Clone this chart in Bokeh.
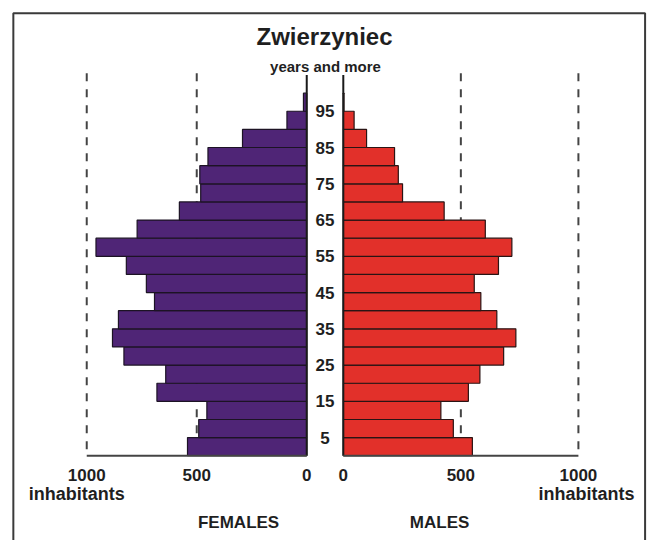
from bokeh.plotting import figure
from bokeh.models import Range1d, ColumnDataSource
from bokeh.embed import file_html
from bokeh.resources import INLINE
from bokeh.core.properties import value

# ---------------- data ----------------
age_start = [0, 5, 10, 15, 20, 25, 30, 35, 40, 45, 50, 55, 60, 65, 70, 75, 80, 85, 90, 95]
females = [542, 491, 454, 681, 641, 831, 883, 856, 692, 729, 820, 958, 771, 579, 482, 486, 449, 292, 90, 15]
males = [549, 468, 415, 532, 581, 682, 734, 653, 585, 557, 660, 717, 604, 429, 252, 234, 218, 99, 46, 3]
age_ticks = [5, 15, 25, 35, 45, 55, 65, 75, 85, 95]
age_tick_labels = ["5", "15", "25", "35", "45", "55", "65", "75", "85", "95"]
x_ticks = [0, 500, 1000]
x_tick_labels = ["0", "500", "1000"]
title = "Zwierzyniec"
subtitle = "years and more"
unit_label = "inhabitants"
left_label = "FEMALES"
right_label = "MALES"

FEM_COLOR = "#4f2576"
MAL_COLOR = "#e2302a"
TXT = "#1f1f1f"
FONT = value("Liberation Sans")

W, H = 652, 540          # canvas size (fits the window with its 8px margin)
RW, RH = 660, 548        # layout grid the positions below refer to


def linear_range(px0, v0, px1, v1, lo, hi):
    # range whose ends (at layout position lo, hi) map v0->px0, v1->px1
    k = (v1 - v0) / (px1 - px0)
    return Range1d(start=v0 + (lo - px0) * k, end=v0 + (hi - px0) * k)


# y in years of age: age 0 at layout y 462, 5 years per 18.4 (layout y grows downward)
y_rng = linear_range(462, 0, 462 - 18.4, 5, RH, 0)

p = figure(width=W, height=H, output_backend="svg", toolbar_location=None,
           x_range=Range1d(0, RW), y_range=y_rng,
           x_axis_type=None, y_axis_type=None, min_border=0,
           background_fill_color="white", border_fill_color="white")
p.outline_line_color = None
p.grid.visible = False

p.extra_x_ranges = {
    "fem": linear_range(310, 0, 87.3, 1000, 0, RW),
    "mal": linear_range(347, 0, 585, 1000, 0, RW),
}
p.extra_y_ranges = {"px": Range1d(RH, 0)}

# outer frame (layout coordinates)
p.line(x=[13, 13, 652.5, 652.5], y=[570, 13, 13, 570], y_range_name="px",
       line_color="#3a3a3a", line_width=2)

top_age = 105.5
axis_top = 105.0

# dashed guide lines
for rng in ("fem", "mal"):
    p.segment(x0=[500, 1000], y0=[top_age, top_age], x1=[500, 1000], y1=[0, 0],
              x_range_name=rng, line_color="#444444", line_width=2, line_dash="8 8")

ys = [a + 2.5 for a in age_start]
src_f = ColumnDataSource(dict(y=ys, v=females))
src_m = ColumnDataSource(dict(y=ys, v=males))
p.hbar(y="y", left=0, right="v", height=5, source=src_f, x_range_name="fem",
       fill_color=FEM_COLOR, line_color="#1c1324", line_width=1.2)
p.hbar(y="y", left=0, right="v", height=5, source=src_m, x_range_name="mal",
       fill_color=MAL_COLOR, line_color="#2a1414", line_width=1.2)

# axis lines
for rng in ("fem", "mal"):
    p.segment(x0=[0], y0=[axis_top], x1=[0], y1=[0], x_range_name=rng,
              line_color="#1a1a1a", line_width=2)
    p.segment(x0=[0], y0=[0], x1=[1000], y1=[0], x_range_name=rng,
              line_color="#444444", line_width=2)

# center age labels
p.text(x=[328.5] * len(age_ticks), y=age_ticks, text=age_tick_labels,
       text_font=FONT, text_font_style="bold", text_font_size="17px",
       text_color=TXT, text_align="center", text_baseline="middle")

# x tick labels
for rng in ("fem", "mal"):
    p.text(x=x_ticks, y=[-5.35] * 3, text=x_tick_labels, x_range_name=rng,
           text_font=FONT, text_font_style="bold", text_font_size="17px",
           text_color=TXT, text_align="center", text_baseline="middle")

p.text(x=[1000], y=[-10.6], text=[unit_label], x_range_name="fem", x_offset=-10,
       text_font=FONT, text_font_style="bold", text_font_size="18px",
       text_color=TXT, text_align="center", text_baseline="middle")
p.text(x=[1000], y=[-10.6], text=[unit_label], x_range_name="mal", x_offset=8,
       text_font=FONT, text_font_style="bold", text_font_size="18px",
       text_color=TXT, text_align="center", text_baseline="middle")

# sex labels
p.text(x=[241, 444.5], y=[530, 530], text=[left_label, right_label], y_range_name="px",
       text_font=FONT, text_font_style="bold", text_font_size="17px",
       text_color=TXT, text_align="center", text_baseline="middle")

# titles
p.text(x=[328], y=[37], text=[title], y_range_name="px",
       text_font=FONT, text_font_style="bold", text_font_size="24px",
       text_color=TXT, text_align="center", text_baseline="middle")
p.text(x=[329], y=[66.5], text=[subtitle], y_range_name="px",
       text_font=FONT, text_font_style="bold", text_font_size="15px",
       text_color=TXT, text_align="center", text_baseline="middle")

open("out.html", "w").write(file_html(p, INLINE))
